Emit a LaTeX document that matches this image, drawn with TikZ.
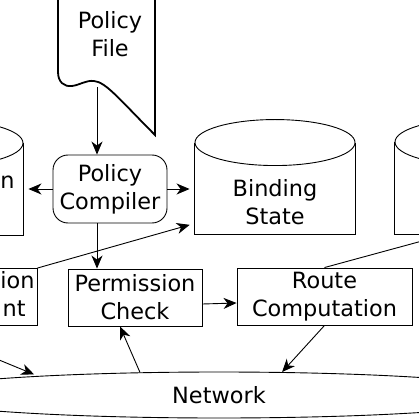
\documentclass[tikz,border=0pt]{standalone}
\usepackage{fontspec}
\setmainfont{DejaVu Sans}
\usetikzlibrary{arrows.meta,shapes.geometric}

\begin{document}
\begin{tikzpicture}[x=1pt,y=-1pt,
  every path/.style={>={Stealth[length=13pt,width=11pt,inset=4pt]},line width=0.9pt},
  every node/.style={font=\fontsize{22.4}{28}\selectfont,align=center,inner sep=0pt},
  box/.style={draw,rectangle,minimum height=57pt},
  store/.style={minimum width=160pt,minimum height=91pt}]
\useasboundingbox (0,0) rectangle (419,419);

% policy file (document shape)
\draw[line width=1.8pt] (58,-5) -- (58,72) .. controls (58,82) and (64,87) .. (72,86)
  .. controls (80,85) and (86,80) .. (94,81) .. controls (106,82) and (120,100) .. (155,135) -- (155,-5);
\node            (pfile) at (110,34.5)  {Policy\\File};
\coordinate      (pfbot) at (97,87);

\node[draw,rounded corners=15pt,minimum width=114pt,minimum height=68pt]
                 (comp)  at (110,189)   {Policy\\Compiler};

% data stores
\node[store]     (loc)   at (-57,189)   {};
\node[store]     (bind)  at (275,188.5) {};
\node[store]     (topo)  at (475,188)   {};
\foreach \c in {loc,bind,topo} {
  \draw (\c.north west) -- (\c.south west) -- (\c.south east) -- (\c.north east);
  \draw (\c.north) ellipse [x radius=80pt, y radius=23pt];
}
\node[anchor=base east]  (loctxt)  at (15,189)    {n};
\node                    (bindtxt) at (275,202.5) {Binding\\State};

% processing boxes
\node[box,minimum width=140pt] (mgmt)  at (-33,297)    {};
\node[anchor=base east]        (mgmt1) at (35,288)     {ion};
\node[anchor=base east]        (mgmt2) at (26,316)     {nt};
\node[box,minimum width=134pt] (perm)  at (135,297.5)  {Permission\\Check};
\node[box,minimum width=175pt] (route) at (324.5,296.5) {Route\\Computation};

\node[draw,ellipse,minimum width=620pt,minimum height=46pt] (net) at (219,395) {Network};
\coordinate (lin) at (-30,348);
\coordinate (rin) at (470,350);

\draw[->]                (pfbot) -- (pfbot |- comp.north);
\draw[->,shorten >=5pt]  (comp.west) -- (loc.east |- comp.west);
\draw[->,shorten >=5pt]  (comp.east) -- (bind.west |- comp.east);
\draw[->]                ([xshift=-13pt]comp.south) -- ([xshift=-13pt]comp.south |- perm.north);
\draw[->,shorten >=5pt]  (mgmt.north east) -- ([yshift=11pt]bind.south west);
\draw[->]                ([yshift=-6.5pt]perm.east) -- ([yshift=-6.5pt]route.west);
\draw[->,shorten >=5pt]  (route.north) -- ([xshift=-27pt]topo.south);
\draw[->]                (net.164) -- ([xshift=-15pt]perm.south);
\draw[->]                (route.south) -- (net.20);
\draw[->,shorten >=4pt]  (lin) -- (net.174);
\draw[->,shorten >=4pt]  (rin) -- (net.5);
\end{tikzpicture}
\end{document}
